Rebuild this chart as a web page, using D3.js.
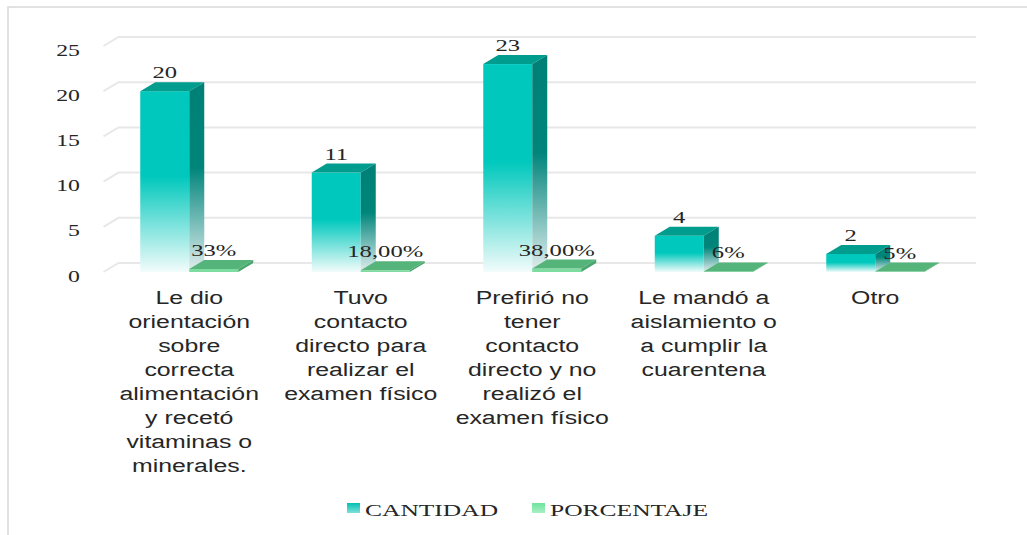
<!DOCTYPE html>
<html>
<head>
<meta charset="utf-8">
<script src="https://cdn.jsdelivr.net/npm/d3@7"></script>
<style>
  body { margin: 0; background: #fff; }
  svg { display: block; }
</style>
</head>
<body>
<svg id="chart" width="1027" height="535"></svg>
<script>
// data
const categories = [
  ["Le dio", "orientación", "sobre", "correcta", "alimentación", "y recetó", "vitaminas o", "minerales."],
  ["Tuvo", "contacto", "directo para", "realizar el", "examen físico"],
  ["Prefirió no", "tener", "contacto", "directo y no", "realizó el", "examen físico"],
  ["Le mandó a", "aislamiento o", "a cumplir la", "cuarentena"],
  ["Otro"]
];
const cantidad = [20, 11, 23, 4, 2];
const porcentaje = [0.33, 0.18, 0.38, 0.06, 0.05];
const porcentajeLabels = ["33%", "18,00%", "38,00%", "6%", "5%"];
const yTicks = [0, 5, 10, 15, 20, 25];
const seriesNames = ["CANTIDAD", "PORCENTAJE"];

const svg = d3.select("#chart");
const DX = 15, DY = -9;   // depth of the 3d look
const barW = 49;
const serif = "'Liberation Serif', 'Times New Roman', serif";
const sans = "'Liberation Sans', Arial, sans-serif";

const x = d3.scaleBand().domain(d3.range(categories.length)).range([103.5, 961]);
const y = d3.scaleLinear().domain([0, 25]).range([272, 46]);

// gradients
const defs = svg.append("defs");
function vGrad(id, stops) {
  const g = defs.append("linearGradient").attr("id", id)
    .attr("x1", 0).attr("y1", 0).attr("x2", 0).attr("y2", 1);
  stops.forEach(([o, c]) => g.append("stop").attr("offset", o).attr("stop-color", c));
}
vGrad("tealFront", [[0, "#00c8bc"], [0.47, "#00c8bc"], [1, "#f2fcfb"]]);
vGrad("tealSide", [[0, "#008076"], [0.45, "#00857b"], [1, "#e3eeee"]]);
vGrad("tealKey", [[0, "#00c0b4"], [1, "#7fe0d8"]]);
vGrad("greenKey", [[0, "#6fe39c"], [1, "#a8f0c4"]]);

// chart border
svg.append("rect")
  .attr("x", 8).attr("y", 7).attr("width", 1040).attr("height", 540)
  .attr("fill", "none").attr("stroke", "#d9d9d9").attr("stroke-width", 1.5);

// gridlines (floor-to-wall)
const [xl, xr] = x.range();
svg.append("g").selectAll("path")
  .data(yTicks)
  .join("path")
  .attr("d", d => `M${xl},${y(d)}L${xl + DX},${y(d) + DY}L${xr + DX},${y(d) + DY}`)
  .attr("fill", "none")
  .attr("stroke", "#e8e8e8")
  .attr("stroke-width", 2);

// y tick labels
svg.append("g").selectAll("text")
  .data(yTicks)
  .join("text")
  .attr("transform", d => `translate(80,${y(d) + 9.5}) scale(1.4,1)`)
  .attr("text-anchor", "end")
  .attr("font-family", serif)
  .attr("font-size", 17)
  .attr("fill", "#262626")
  .text(d => d);

function bar3d(g, bx, v, front, top, side) {
  const y0 = y(0), y1 = y(v);
  g.append("rect")
    .attr("x", bx).attr("y", y1).attr("width", barW).attr("height", y0 - y1)
    .attr("fill", front);
  g.append("path")
    .attr("d", `M${bx},${y1}L${bx + DX},${y1 + DY}L${bx + barW + DX},${y1 + DY}L${bx + barW},${y1}Z`)
    .attr("fill", top);
  g.append("path")
    .attr("d", `M${bx + barW},${y1}L${bx + barW + DX},${y1 + DY}L${bx + barW + DX},${y0 + DY}L${bx + barW},${y0}Z`)
    .attr("fill", side);
}

const groups = svg.append("g").selectAll("g")
  .data(categories)
  .join("g");

groups.each(function (_, i) {
  const g = d3.select(this);
  const c = x(i) + x.bandwidth() / 2;
  bar3d(g, c - barW, cantidad[i], "url(#tealFront)", "#009c8e", "url(#tealSide)");
  bar3d(g, c, porcentaje[i], "#7ddc9f", "#55b47a", "#4aa56e");

  g.append("text")
    .attr("transform", `translate(${c - barW / 2},${y(cantidad[i]) - 13}) scale(1.45,1)`)
    .attr("text-anchor", "middle")
    .attr("font-family", serif).attr("font-size", 17).attr("fill", "#262626")
    .text(cantidad[i]);

  g.append("text")
    .attr("transform", `translate(${c + barW / 2},${y(porcentaje[i]) - 13}) scale(1.45,1)`)
    .attr("text-anchor", "middle")
    .attr("font-family", serif).attr("font-size", 17).attr("fill", "#262626")
    .text(porcentajeLabels[i]);

  // category label lines
  g.selectAll("text.cat")
    .data(categories[i])
    .join("text")
    .attr("class", "cat")
    .attr("transform", (_, k) => `translate(${c},${303.5 + k * 24}) scale(1.38,1)`)
    .attr("text-anchor", "middle")
    .attr("font-family", sans).attr("font-size", 18).attr("fill", "#262626")
    .text(d => d);
});

// legend
const legendX = [347, 532];
const legendFill = ["url(#tealKey)", "url(#greenKey)"];
const legend = svg.append("g").selectAll("g")
  .data(seriesNames)
  .join("g")
  .attr("transform", (_, i) => `translate(${legendX[i]},0)`);
legend.append("rect")
  .attr("x", 0).attr("y", 503).attr("width", 13).attr("height", 10)
  .attr("fill", (_, i) => legendFill[i]);
legend.append("text")
  .attr("transform", "translate(18,516) scale(1.5,1)")
  .attr("font-family", serif).attr("font-size", 17).attr("fill", "#262626")
  .text(d => d);
</script>
</body>
</html>
